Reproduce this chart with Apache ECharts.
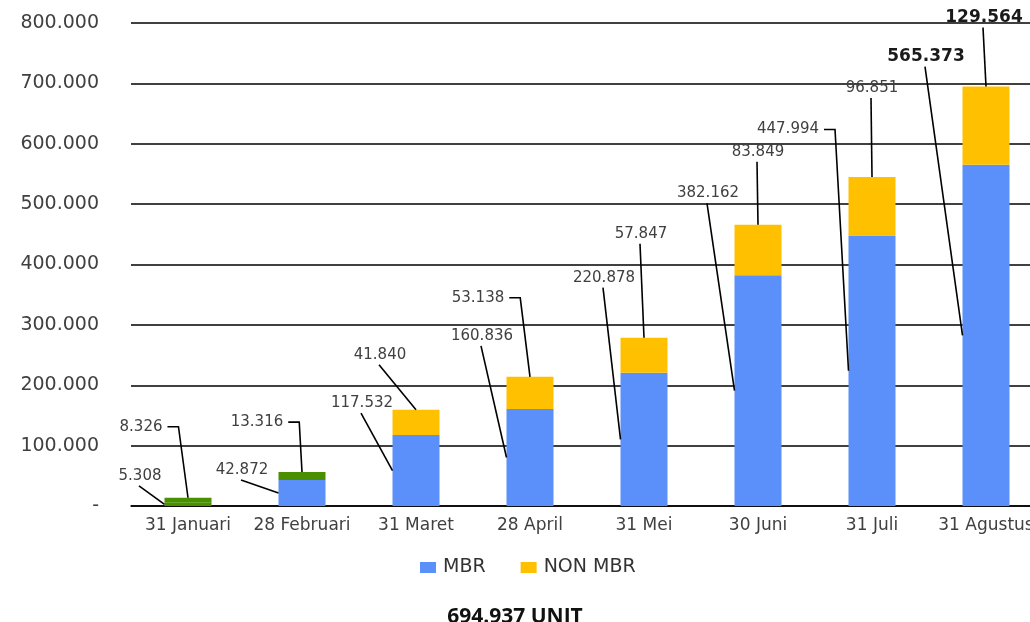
<!DOCTYPE html>
<html><head><meta charset="utf-8">
<script src="https://cdn.jsdelivr.net/npm/echarts@6/dist/echarts.min.js"></script>
<style>html,body{margin:0;padding:0;background:#fff}#c{width:1030px;height:622px}</style>
</head><body><div id="c"></div>
<script>
// ---- data ----
const categories = ['31 Januari', '28 Februari', '31 Maret', '28 April', '31 Mei', '30 Juni', '31 Juli', '31 Agustus'];
const mbrValues = [5308, 42872, 117532, 160836, 220878, 382162, 447994, 565373];
const nonMbrValues = [8326, 13316, 41840, 53138, 57847, 83849, 96851, 129564];
const seriesNames = ['MBR', 'NON MBR'];
const yMin = 0, yMax = 800000, yStep = 100000;
const unitText = ' UNIT';

// ---- layout / style (label placement relative to each bar) ----
const BAR_W = 47;
const mbrLabelOffset = [[-48,-27],[-60,-10],[-54,-32],[-48,-73],[-40,-95],[-50,-82],[-84,-106],[-60,-108]];
const nonLabelOffset = [[-47,-71],[-45,-50],[-36,-55],[-52,-79],[-3,-104],[0,-73],[0,-89],[-2,-69]];
const mbrElbow = [false,false,false,false,false,false,true,false];
const nonElbow = [true,true,false,true,false,false,false,false];
const mbrBold = [7], nonBold = [7];
const mbrGreen = [0], nonGreen = [0, 1];
const C_MBR = '#5B8FF9', C_NON = '#FFC000', C_GREEN = '#4A8F00';
const FONT = '"DejaVu Sans", Verdana, sans-serif';

const fmt = v => String(v).replace(/\B(?=(\d{3})+(?!\d))/g, '.');
const total = mbrValues[mbrValues.length-1] + nonMbrValues[nonMbrValues.length-1];

const mctx = document.createElement('canvas').getContext('2d');
function textW(t, font) { mctx.font = font; return mctx.measureText(t).width; }

function items(vals, green) {
  return vals.map((v, i) => green.includes(i) ? { value: v, itemStyle: { color: C_GREEN } } : v);
}

function annotation(text, bold, off, elbow, anchor, end) {
  const font = (bold ? 'bold 17px ' : '15px ') + FONT;
  const x = anchor[0] + off[0], y = anchor[1] + off[1];
  let pts;
  if (elbow) {
    const sx = x + textW(text, font) / 2 + 5;
    pts = [[sx, y], [sx + 11, y], end];
  } else {
    pts = [[x - 1, y + 10], end];
  }
  return [
    { type: 'polyline', shape: { points: pts }, style: { stroke: '#000', lineWidth: 1.6, fill: null } },
    { type: 'text', style: { text: text, x: x, y: y, font: font, fill: bold ? '#1a1a1a' : '#404040',
      textAlign: 'center', textVerticalAlign: 'middle' } }
  ];
}

function renderAnnot(params, api) {
  const i = api.value(0), m = api.value(1), n = api.value(2);
  const base = api.coord([i, 0]);
  const cx = base[0];
  const mTop = api.coord([i, m])[1];
  const tTop = api.coord([i, m + n])[1];
  const children = []
    .concat(annotation(fmt(m), mbrBold.includes(i), mbrLabelOffset[i], mbrElbow[i],
      [cx, mTop], [cx - BAR_W / 2, (mTop + base[1]) / 2]))
    .concat(annotation(fmt(n), nonBold.includes(i), nonLabelOffset[i], nonElbow[i],
      [cx, tTop], [cx, tTop]));
  return { type: 'group', children: children };
}

const chart = echarts.init(document.getElementById('c'), null, { renderer: 'canvas' });
chart.setOption({
  animation: false,
  backgroundColor: '#fff',
  title: {
    text: fmt(total) + unitText, left: 'center', top: 602,
    textStyle: { fontFamily: 'Open Sans', fontWeight: 'bold', fontSize: 21, color: '#111' }
  },
  legend: {
    data: seriesNames, left: 415, top: 553, icon: 'rect',
    itemWidth: 16, itemHeight: 11, itemGap: 35,
    textStyle: { fontFamily: FONT, fontSize: 19, color: '#333', padding: [0, 0, 0, 2] }
  },
  grid: { left: 131, width: 912, top: 23, bottom: 116, containLabel: false, outerBoundsMode: 'none' },
  xAxis: {
    type: 'category', data: categories,
    axisLine: { lineStyle: { color: '#000', width: 1.5 } },
    axisTick: { show: false },
    axisLabel: { interval: 0, fontFamily: FONT, fontSize: 17, color: '#404040', margin: 11 }
  },
  yAxis: {
    type: 'value', min: yMin, max: yMax, interval: yStep,
    axisLine: { show: false }, axisTick: { show: false },
    splitLine: { lineStyle: { color: '#000', width: 1.5 } },
    axisLabel: {
      fontFamily: FONT, fontSize: 19, color: '#404040', margin: 32,
      formatter: v => v === 0 ? '-' : fmt(v)
    }
  },
  series: [
    {
      name: seriesNames[0], type: 'bar', stack: 'total', barWidth: BAR_W,
      itemStyle: { color: C_MBR }, data: items(mbrValues, mbrGreen)
    },
    {
      name: seriesNames[1], type: 'bar', stack: 'total', barWidth: BAR_W,
      itemStyle: { color: C_NON }, data: items(nonMbrValues, nonGreen)
    },
    {
      name: 'labels', type: 'custom', z: 10, silent: true,
      encode: { x: 0, y: 1 },
      data: categories.map((c, i) => [i, mbrValues[i], nonMbrValues[i]]),
      renderItem: renderAnnot
    }
  ]
});
</script></body></html>
